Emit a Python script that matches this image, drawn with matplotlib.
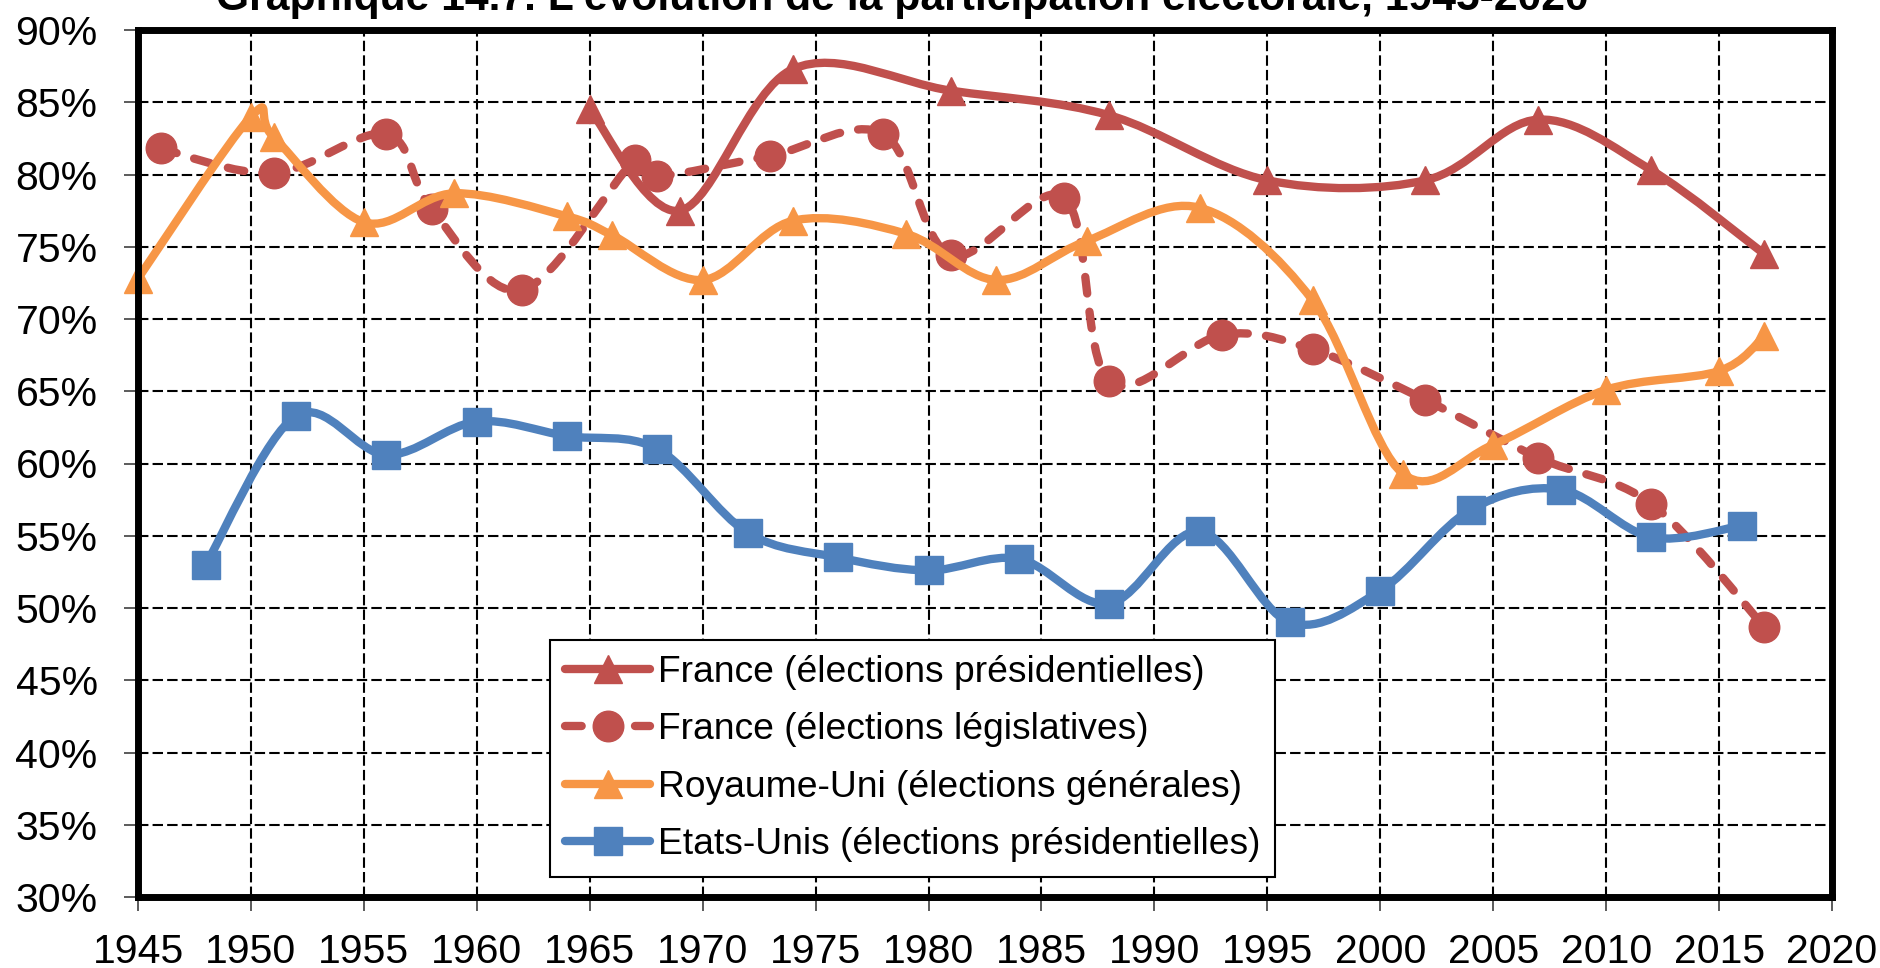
import numpy as np
import matplotlib
matplotlib.use('Agg')
import matplotlib.pyplot as plt
from matplotlib.path import Path
from matplotlib.patches import PathPatch
from matplotlib.lines import Line2D

plt.rcParams['font.family'] = ['Liberation Sans', 'DejaVu Sans']

# data (turnout, %)
fr_pres_years = [1965, 1969, 1974, 1981, 1988, 1995, 2002, 2007, 2012, 2017]
fr_pres = [84.5, 77.5, 87.3, 85.8, 84.1, 79.6, 79.6, 83.8, 80.3, 74.5]

fr_leg_years = [1946, 1951, 1956, 1958, 1962, 1967, 1968, 1973, 1978, 1981,
                1986, 1988, 1993, 1997, 2002, 2007, 2012, 2017]
fr_leg = [81.8, 80.1, 82.8, 77.6, 72.0, 81.0, 79.9, 81.3, 82.8, 74.4,
          78.4, 65.7, 68.9, 67.9, 64.4, 60.4, 57.2, 48.7]

uk_years = [1945, 1950, 1951, 1955, 1959, 1964, 1966, 1970, 1974, 1979,
            1983, 1987, 1992, 1997, 2001, 2005, 2010, 2015, 2017]
uk = [72.8, 84.0, 82.6, 76.7, 78.7, 77.1, 75.8, 72.7, 76.8, 75.9,
      72.7, 75.4, 77.7, 71.3, 59.3, 61.3, 65.1, 66.4, 68.8]

us_years = [1948, 1952, 1956, 1960, 1964, 1968, 1972, 1976, 1980,
            1984, 1988, 1992, 1996, 2000, 2004, 2008, 2012, 2016]
us = [53.0, 63.3, 60.6, 62.9, 61.9, 61.0, 55.2, 53.5, 52.6,
      53.4, 50.3, 55.3, 49.0, 51.2, 56.8, 58.2, 54.9, 55.7]

labels = ['France (élections présidentielles)',
          'France (élections législatives)',
          'Royaume-Uni (élections générales)',
          'Etats-Unis (élections présidentielles)']

x_ticks = list(range(1945, 2021, 5))
y_ticks = list(range(30, 91, 5))
y_ticklabels = [f'{v}%' for v in y_ticks]

title = "Graphique 14.7. L'évolution de la participation électorale, 1945-2020"

RED = '#C0504D'
ORANGE = '#F79646'
BLUE = '#4F81BD'


def smooth_path(xs, ys):
    # spreadsheet-style smoothed line: cubic bezier through each point
    p = np.column_stack([xs, ys]).astype(float)
    n = len(p)
    verts = [p[0]]
    codes = [Path.MOVETO]
    for i in range(n - 1):
        p0 = p[i - 1] if i > 0 else p[i]
        p1 = p[i]
        p2 = p[i + 1]
        p3 = p[i + 2] if i + 2 < n else p[i + 1]
        c1 = p1 + (p2 - p0) / 6.0
        c2 = p2 - (p3 - p1) / 6.0
        verts += [c1, c2, p2]
        codes += [Path.CURVE4] * 3
    return Path(verts, codes)


fig = plt.figure(figsize=(18.81, 9.68), dpi=100)
ax = fig.add_axes([138 / 1881, 1 - 897 / 968, (1832 - 138) / 1881, (897 - 30) / 968])

series = [
    (fr_pres_years, fr_pres, RED, '-', '^', 20),
    (fr_leg_years, fr_leg, RED, (0, (2.0, 2.2)), 'o', 22),
    (uk_years, uk, ORANGE, '-', '^', 20),
    (us_years, us, BLUE, '-', 's', 20),
]

lw = 6
handles = []
for k, (xs, ys, col, ls, mk, ms) in enumerate(series):
    z = 3 + k
    patch = PathPatch(smooth_path(xs, ys), fill=False, edgecolor=col, lw=lw,
                      linestyle=ls, capstyle='round', joinstyle='round', zorder=z)
    ax.add_patch(patch)
    ax.plot(xs, ys, linestyle='none', marker=mk, ms=ms, color=col,
            markeredgecolor=col, markeredgewidth=1, zorder=z + 0.5, clip_on=False)
    handles.append(Line2D([], [], color=col, lw=lw, linestyle=ls, marker=mk,
                          ms=ms, markeredgecolor=col, dash_capstyle='round',
                          solid_capstyle='round'))

ax.set_xlim(1945, 2020)
ax.set_ylim(30, 90)
ax.set_xticks(x_ticks)
ax.set_xticklabels([str(x) for x in x_ticks])
ax.set_yticks(y_ticks)
ax.set_yticklabels(y_ticklabels)

ax.grid(True, color='black', linestyle=(0, (5, 2)), linewidth=1.5, zorder=1)
ax.set_axisbelow(True)
for s in ax.spines.values():
    s.set_linewidth(5)
    s.set_color('black')
    s.set_zorder(10)

ax.tick_params(axis='both', direction='out', length=10, width=1.2,
               color='#404040', labelsize=29.5)
ax.tick_params(axis='x', pad=16)
ax.tick_params(axis='y', pad=19)

leg = ax.legend(handles, labels, loc='upper left',
                bbox_to_anchor=(550 / 1881, 1 - 640 / 968),
                bbox_transform=fig.transFigure, fontsize=26.8,
                frameon=True, fancybox=False, shadow=False,
                handlelength=2.3, handletextpad=0.2, labelspacing=0.6,
                borderpad=0.4, borderaxespad=0)
leg.get_frame().set_edgecolor('black')
leg.get_frame().set_linewidth(1.5)
leg.get_frame().set_alpha(1)
leg.set_zorder(20)

fig.text(902 / 1881, 1 - 10 / 968, title, ha='center', va='baseline',
         fontsize=30.7, fontweight='bold')

fig.savefig('out.png', dpi=100)
